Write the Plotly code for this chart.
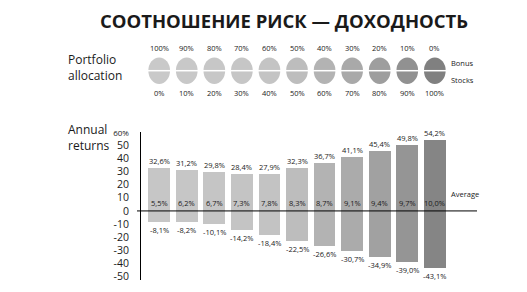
import plotly.graph_objects as go

# ---- data ----
bond_share = [100, 90, 80, 70, 60, 50, 40, 30, 20, 10, 0]
stock_share = [0, 10, 20, 30, 40, 50, 60, 70, 80, 90, 100]
best_year = [32.6, 31.2, 29.8, 28.4, 27.9, 32.3, 36.7, 41.1, 45.4, 49.8, 54.2]
worst_year = [-8.1, -8.2, -10.1, -14.2, -18.4, -22.5, -26.6, -30.7, -34.9, -39.0, -43.1]
average = [5.5, 6.2, 6.7, 7.3, 7.8, 8.3, 8.7, 9.1, 9.4, 9.7, 10.0]
y_ticks = [60, 50, 40, 30, 20, 10, 0, -10, -20, -30, -40, -50]

# ---- styles ----
bar_colors = ["#c6c6c6", "#c6c6c6", "#c5c5c5", "#c4c4c4", "#c3c3c3", "#bdbdbd",
              "#b3b3b3", "#ababab", "#a1a1a1", "#959595", "#858585"]
oval_colors = ["#c9c9c9", "#c8c8c8", "#c7c7c7", "#c6c6c6", "#c4c4c4", "#bdbdbd",
               "#b3b3b3", "#a9a9a9", "#9e9e9e", "#919191", "#808080"]
FONT = "Open Sans"
TXT = "#1a1a1a"


def pct(v):
    return (f"{v:.1f}%").replace(".", ",")


n = len(best_year)
xs = list(range(n))
bw = 0.787

# plot area in pixels
H_TOP, H_BOT = 131.5, 280.0
W_L, W_R = 141.0, 477.0


def py(p):
    return (H_BOT - p) / (H_BOT - H_TOP)


def px(p):
    return (p - W_L) / (W_R - W_L)


fig = go.Figure()
fig.add_trace(go.Bar(
    x=xs,
    y=[t - b for t, b in zip(best_year, worst_year)],
    base=worst_year,
    width=bw,
    marker=dict(color=bar_colors, line=dict(width=0)),
    hoverinfo="skip",
    showlegend=False,
))

small = dict(family=FONT, size=7.5, color=TXT)
annotations = []
for i in range(n):
    annotations.append(dict(x=i, y=best_year[i], xref="x", yref="y", text=pct(best_year[i]),
                            showarrow=False, yanchor="middle", yshift=7, font=small))
    annotations.append(dict(x=i, y=worst_year[i], xref="x", yref="y", text=pct(worst_year[i]),
                            showarrow=False, yanchor="middle", yshift=-8, font=small))
    annotations.append(dict(x=i, y=0, xref="x", yref="y", text=pct(average[i]), showarrow=False,
                            yanchor="middle", yshift=8, font=small))

shapes = []
for i in range(n):
    shapes.append(dict(type="circle", xref="x", yref="paper",
                       x0=i - bw / 2, x1=i + bw / 2, y0=py(83.3), y1=py(56.7),
                       fillcolor=oval_colors[i], line=dict(width=0), layer="above"))
    shapes.append(dict(type="line", xref="x", yref="paper",
                       x0=i - bw / 2 - 0.05, x1=i + bw / 2 + 0.05, y0=py(70), y1=py(70),
                       line=dict(color="white", width=1.5), layer="above"))
    annotations.append(dict(x=i, y=py(47), xref="x", yref="paper", text=f"{bond_share[i]}%",
                            showarrow=False, yanchor="middle", font=small))
    annotations.append(dict(x=i, y=py(92.5), xref="x", yref="paper", text=f"{stock_share[i]}%",
                            showarrow=False, yanchor="middle", font=small))

# zero line
shapes.append(dict(type="line", xref="paper", yref="y", x0=px(137), x1=1, y0=0, y1=0,
                   line=dict(color="black", width=1), layer="above"))

annotations += [
    dict(x=10.5, y=py(194), xref="x", yref="paper", text="Average", xanchor="left",
         yanchor="middle", showarrow=False, font=small),
    dict(x=10.5, y=py(62), xref="x", yref="paper", text="Bonus", xanchor="left",
         yanchor="middle", showarrow=False, font=small),
    dict(x=10.5, y=py(79.5), xref="x", yref="paper", text="Stocks", xanchor="left",
         yanchor="middle", showarrow=False, font=small),
    dict(x=px(284), y=py(20), xref="paper", yref="paper",
         text="<b>СООТНОШЕНИЕ РИСК — ДОХОДНОСТЬ</b>", xanchor="center", yanchor="middle",
         showarrow=False, font=dict(family=FONT, size=18.5, color=TXT)),
]
for txt, ycen in [("Portfolio<br>allocation", 67), ("Annual<br>returns", 137.5)]:
    annotations.append(dict(x=px(66), y=py(ycen), xref="paper", yref="paper", text=txt,
                            xanchor="left", yanchor="middle", align="left", showarrow=False,
                            font=dict(family=FONT, size=12, color=TXT)))

ticktext = []
for t in y_ticks:
    if t == 60:
        ticktext.append("<span style='font-size:8px'>60%</span>")
    else:
        ticktext.append(str(t))

fig.update_layout(
    template="none",
    width=527, height=292,
    margin=dict(l=W_L, r=527 - W_R, t=H_TOP, b=292 - H_BOT, pad=0, autoexpand=False),
    paper_bgcolor="white", plot_bgcolor="white",
    xaxis=dict(range=[-0.66, 11.53], visible=False, fixedrange=True, automargin=False),
    yaxis=dict(range=[-52.5, 60], tickvals=y_ticks, ticktext=ticktext, automargin=False,
               showgrid=False, zeroline=False, showline=True, linecolor="black", linewidth=1,
               ticks="", ticklabelstandoff=9,
               tickfont=dict(family=FONT, size=10.5, color=TXT), fixedrange=True),
    shapes=shapes,
    annotations=annotations,
    bargap=0,
    showlegend=False,
)

fig.write_html("out.html")
